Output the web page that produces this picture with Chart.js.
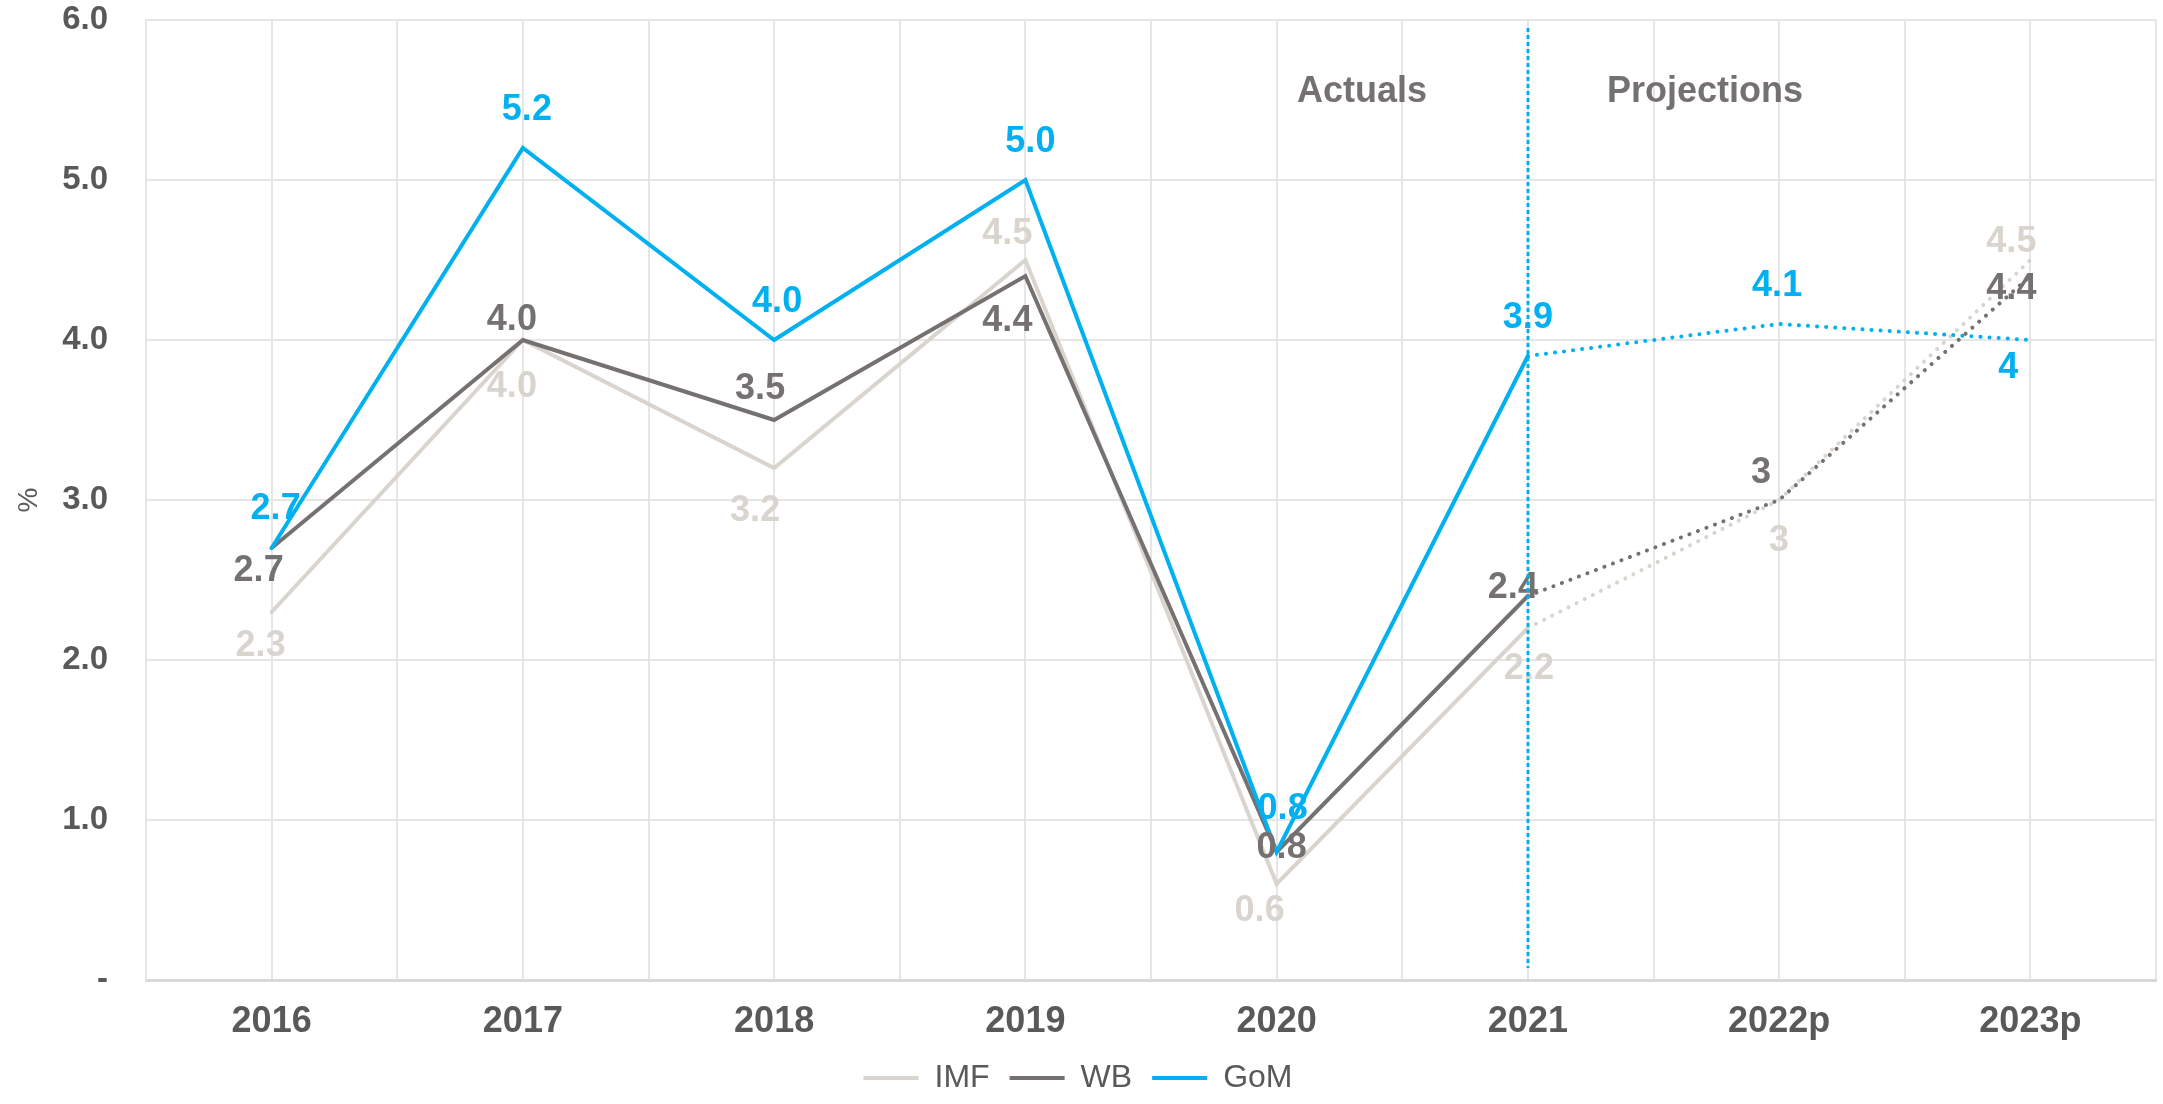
<!DOCTYPE html>
<html>
<head>
<meta charset="utf-8">
<script src="https://cdn.jsdelivr.net/npm/chart.js@4"></script>
<style>
html, body { margin: 0; padding: 0; background: #fff; }
</style>
</head>
<body>
<canvas id="growth_chart" width="2163" height="1104"></canvas>
<script>
// growth rates, %
const years = ['2016', '2017', '2018', '2019', '2020', '2021', '2022p', '2023p'];
const imf = [2.3, 4.0, 3.2, 4.5, 0.6, 2.2, 3, 4.5];
const wb = [2.7, 4.0, 3.5, 4.4, 0.8, 2.4, 3, 4.4];
const gom = [2.7, 5.2, 4.0, 5.0, 0.8, 3.9, 4.1, 4];
const firstProjection = 5; // dotted from 2021 on
const periodNotes = ['Actuals', 'Projections'];

// where the value labels sit relative to their point (px)
const labelShift = {
    IMF: [[-11, 34], [-11, 47], [-19, 43], [-18, -26], [-17, 27], [1, 41], [0, 41], [-19, -18]],
    WB: [[-13, 23], [-11, -20], [-14, -31], [-18, 45], [5, -4], [-15, -8], [-18, -27], [-19, 13]],
    GoM: [[4, -39], [4, -38], [3, -38], [5, -38], [6, -43], [0, -38], [-2, -38], [-22, 28]]
};
const notePos = [[4.34, 5.55], [5.705, 5.55]];

const font = '"Liberation Sans", Arial, sans-serif';
const tickGrey = '#595959';

function makeSeries(name, values, colour, order) {
    return {
        label: name,
        data: values.map((v, i) => ({x: i, y: v})),
        borderColor: colour,
        backgroundColor: colour,
        borderWidth: 4,
        borderCapStyle: 'round',
        pointRadius: 0,
        tension: 0,
        order: order,
        segment: {
            borderDash: ctx => ctx.p0DataIndex >= firstProjection ? [0.1, 9] : undefined
        }
    };
}

//value labels, 2021 divider, period notes
const extras = {
    id: 'extras',
    afterDatasetsDraw(chart) {
        const ctx = chart.ctx;
        const xs = chart.scales.x, ys = chart.scales.y;
        ctx.save();
        ctx.font = 'bold 36px ' + font;
        ctx.textAlign = 'center';
        ctx.textBaseline = 'middle';
        chart.data.datasets.forEach((ds, di) => {
            const meta = chart.getDatasetMeta(di);
            const shift = labelShift[ds.label];
            meta.data.forEach((pt, i) => {
                const v = ds.data[i].y;
                const txt = i < firstProjection ? v.toFixed(1) : String(v);
                ctx.fillStyle = ds.borderColor;
                ctx.fillText(txt, pt.x + shift[i][0], pt.y + shift[i][1]);
            });
        });

        ctx.fillStyle = '#767171';
        ctx.font = 'bold 36px ' + font;
        periodNotes.forEach((t, i) => {
            ctx.fillText(t, xs.getPixelForValue(notePos[i][0]), ys.getPixelForValue(notePos[i][1]));
        });

        const xd = Math.round(xs.getPixelForValue(firstProjection));
        ctx.strokeStyle = '#00B0F0';
        ctx.lineWidth = 3;
        ctx.setLineDash([4, 3]);
        ctx.beginPath();
        ctx.moveTo(xd, chart.chartArea.top + 8);
        ctx.lineTo(xd, chart.chartArea.bottom - 12);
        ctx.stroke();
        ctx.restore();
    }
};

const growth_chart = new Chart(document.getElementById('growth_chart'), {
    type: 'line',
    data: {
        datasets: [
            makeSeries('IMF', imf, '#D9D4CE', 2),
            makeSeries('WB', wb, '#767171', 1),
            makeSeries('GoM', gom, '#00B0F0', 0)
        ]
    },
    options: {
        responsive: false,
        animation: false,
        devicePixelRatio: 1,
        layout: {padding: {left: 0, right: 7, top: 20, bottom: 0}},
        plugins: {
            tooltip: {enabled: false},
            legend: {
                position: 'bottom',
                labels: {
                    color: tickGrey,
                    font: {family: font, size: 32},
                    boxWidth: 55,
                    boxHeight: 4,
                    padding: 20,
                    sort: (a, b) => a.datasetIndex - b.datasetIndex,
                    generateLabels: chart => Chart.defaults.plugins.legend.labels.generateLabels(chart)
                        .map(l => Object.assign(l, {lineWidth: 0, lineDash: []}))
                }
            }
        },
        scales: {
            x: {
                type: 'linear',
                min: -0.5,
                max: years.length - 0.5,
                afterFit: s => { s.height = 62; },
                afterBuildTicks: s => {
                    s.ticks = [];
                    for (let v = -0.5; v <= years.length - 0.5; v += 0.5) s.ticks.push({value: v});
                },
                grid: {color: '#E6E6E6', lineWidth: 2, tickLength: 20, tickColor: 'rgba(0,0,0,0)'},
                border: {color: '#D9D9D9', width: 3},
                ticks: {
                    autoSkip: false,
                    maxRotation: 0,
                    padding: 0,
                    color: tickGrey,
                    font: {family: font, size: 36, weight: 'bold'},
                    callback: v => Number.isInteger(v) ? years[v] : ''
                }
            },
            y: {
                min: 0,
                max: 6,
                afterFit: s => { s.width = 146; },
                grid: {color: '#E6E6E6', lineWidth: 2, tickLength: 38, tickColor: 'rgba(0,0,0,0)'},
                border: {color: '#E6E6E6', width: 2},
                ticks: {
                    stepSize: 1,
                    padding: 0,
                    color: tickGrey,
                    font: {family: font, size: 33, weight: 'bold'},
                    callback: v => v === 0 ? '-' : v.toFixed(1)
                },
                title: {
                    display: true,
                    text: '%',
                    color: tickGrey,
                    font: {family: font, size: 28},
                    padding: {top: 12, bottom: 0}
                }
            }
        }
    },
    plugins: [extras]
});
</script>
</body>
</html>
